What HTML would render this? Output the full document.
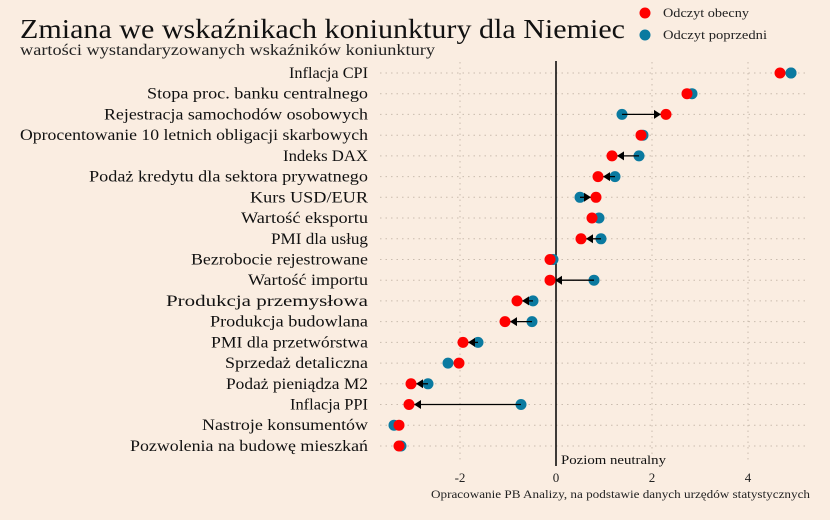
<!DOCTYPE html>
<html><head><meta charset="utf-8"><style>
body{margin:0;background:#faede1;}
svg{display:block;font-family:"Liberation Serif",serif;}
</style></head><body>
<svg width="830" height="520" xmlns="http://www.w3.org/2000/svg">
<rect width="830" height="520" fill="#faede1"/>
<text x="20" y="38" font-size="27" fill="#111" textLength="605" lengthAdjust="spacingAndGlyphs">Zmiana we wskaźnikach koniunktury dla Niemiec</text>
<text x="20" y="55" font-size="15.5" fill="#222" textLength="415" lengthAdjust="spacingAndGlyphs">wartości wystandaryzowanych wskaźników koniunktury</text>
<circle cx="645" cy="13" r="5.5" fill="#ff0000"/><text x="663" y="17" font-size="13" fill="#222" textLength="86" lengthAdjust="spacingAndGlyphs">Odczyt obecny</text>
<circle cx="645" cy="35" r="5.5" fill="#0b7aa0"/><text x="663" y="39" font-size="13" fill="#222" textLength="104" lengthAdjust="spacingAndGlyphs">Odczyt poprzedni</text>
<g stroke="#c9bcae" stroke-width="1" stroke-dasharray="1.5,4">
<line x1="460" y1="62" x2="460" y2="462"/><line x1="652" y1="62" x2="652" y2="462"/><line x1="748" y1="62" x2="748" y2="462"/>
<line x1="380" y1="73" x2="808" y2="73"/><line x1="380" y1="93.7" x2="808" y2="93.7"/><line x1="380" y1="114.4" x2="808" y2="114.4"/><line x1="380" y1="135.2" x2="808" y2="135.2"/><line x1="380" y1="155.9" x2="808" y2="155.9"/><line x1="380" y1="176.6" x2="808" y2="176.6"/><line x1="380" y1="197.3" x2="808" y2="197.3"/><line x1="380" y1="218" x2="808" y2="218"/><line x1="380" y1="238.8" x2="808" y2="238.8"/><line x1="380" y1="259.5" x2="808" y2="259.5"/><line x1="380" y1="280.2" x2="808" y2="280.2"/><line x1="380" y1="300.9" x2="808" y2="300.9"/><line x1="380" y1="321.6" x2="808" y2="321.6"/><line x1="380" y1="342.4" x2="808" y2="342.4"/><line x1="380" y1="363.1" x2="808" y2="363.1"/><line x1="380" y1="383.8" x2="808" y2="383.8"/><line x1="380" y1="404.5" x2="808" y2="404.5"/><line x1="380" y1="425.2" x2="808" y2="425.2"/><line x1="380" y1="446" x2="808" y2="446"/>
</g>
<line x1="556" y1="61" x2="556" y2="466" stroke="#000" stroke-width="1.5"/>
<text x="561" y="464" font-size="13" fill="#111" textLength="105" lengthAdjust="spacingAndGlyphs">Poziom neutralny</text>
<g font-size="13" fill="#222" text-anchor="middle">
<text x="460" y="482">-2</text><text x="556" y="482">0</text><text x="652" y="482">2</text><text x="748" y="482">4</text>
</g>
<text x="431" y="498" font-size="12" fill="#222" textLength="379" lengthAdjust="spacingAndGlyphs">Opracowanie PB Analizy, na podstawie danych urzędów statystycznych</text>
<g font-size="15.5" fill="#111" lengthAdjust="spacingAndGlyphs">
<text x="289" y="78" textLength="79" lengthAdjust="spacingAndGlyphs">Inflacja CPI</text>
<text x="147" y="98.7" textLength="221" lengthAdjust="spacingAndGlyphs">Stopa proc. banku centralnego</text>
<text x="104" y="119.4" textLength="264" lengthAdjust="spacingAndGlyphs">Rejestracja samochodów osobowych</text>
<text x="20" y="140.2" textLength="348" lengthAdjust="spacingAndGlyphs">Oprocentowanie 10 letnich obligacji skarbowych</text>
<text x="283" y="160.9" textLength="85" lengthAdjust="spacingAndGlyphs">Indeks DAX</text>
<text x="89" y="181.6" textLength="279" lengthAdjust="spacingAndGlyphs">Podaż kredytu dla sektora prywatnego</text>
<text x="250" y="202.3" textLength="118" lengthAdjust="spacingAndGlyphs">Kurs USD/EUR</text>
<text x="241" y="223" textLength="127" lengthAdjust="spacingAndGlyphs">Wartość eksportu</text>
<text x="271" y="243.8" textLength="97" lengthAdjust="spacingAndGlyphs">PMI dla usług</text>
<text x="191" y="264.5" textLength="177" lengthAdjust="spacingAndGlyphs">Bezrobocie rejestrowane</text>
<text x="248" y="285.2" textLength="120" lengthAdjust="spacingAndGlyphs">Wartość importu</text>
<text x="166" y="305.9" textLength="202" lengthAdjust="spacingAndGlyphs">Produkcja przemysłowa</text>
<text x="210" y="326.6" textLength="158" lengthAdjust="spacingAndGlyphs">Produkcja budowlana</text>
<text x="211" y="347.4" textLength="157" lengthAdjust="spacingAndGlyphs">PMI dla przetwórstwa</text>
<text x="225" y="368.1" textLength="143" lengthAdjust="spacingAndGlyphs">Sprzedaż detaliczna</text>
<text x="226" y="388.8" textLength="142" lengthAdjust="spacingAndGlyphs">Podaż pieniądza M2</text>
<text x="290" y="409.5" textLength="78" lengthAdjust="spacingAndGlyphs">Inflacja PPI</text>
<text x="202" y="430.2" textLength="166" lengthAdjust="spacingAndGlyphs">Nastroje konsumentów</text>
<text x="130" y="451" textLength="238" lengthAdjust="spacingAndGlyphs">Pozwolenia na budowę mieszkań</text>
</g>
<g fill="#0b7aa0">
<circle cx="791" cy="73" r="5.5"/><circle cx="692" cy="93.7" r="5.5"/><circle cx="622" cy="114.4" r="5.5"/><circle cx="643" cy="135.2" r="5.5"/><circle cx="639" cy="155.9" r="5.5"/><circle cx="615" cy="176.6" r="5.5"/><circle cx="580" cy="197.3" r="5.5"/><circle cx="599" cy="218" r="5.5"/><circle cx="601" cy="238.8" r="5.5"/><circle cx="553" cy="259.5" r="5.5"/><circle cx="594" cy="280.2" r="5.5"/><circle cx="533" cy="300.9" r="5.5"/><circle cx="532" cy="321.6" r="5.5"/><circle cx="478" cy="342.4" r="5.5"/><circle cx="448" cy="363.1" r="5.5"/><circle cx="428" cy="383.8" r="5.5"/><circle cx="521" cy="404.5" r="5.5"/><circle cx="394" cy="425.2" r="5.5"/><circle cx="401" cy="446" r="5.5"/>
</g>
<g stroke="#000" stroke-width="1.3">
<line x1="622" y1="114.4" x2="661" y2="114.4"/><line x1="639" y1="155.9" x2="617" y2="155.9"/><line x1="615" y1="176.6" x2="603" y2="176.6"/><line x1="580" y1="197.3" x2="591" y2="197.3"/><line x1="601" y1="238.8" x2="586" y2="238.8"/><line x1="594" y1="280.2" x2="555" y2="280.2"/><line x1="533" y1="300.9" x2="522" y2="300.9"/><line x1="532" y1="321.6" x2="510" y2="321.6"/><line x1="478" y1="342.4" x2="468" y2="342.4"/><line x1="428" y1="383.8" x2="416" y2="383.8"/><line x1="521" y1="404.5" x2="414" y2="404.5"/>
</g>
<g fill="#000">
<polygon points="661,114.4 654,109.9 654,118.9"/>
<polygon points="617,155.9 624,151.4 624,160.4"/>
<polygon points="603,176.6 610,172.1 610,181.1"/>
<polygon points="591,197.3 584,192.8 584,201.8"/>
<polygon points="586,238.8 593,234.3 593,243.3"/>
<polygon points="555,280.2 562,275.7 562,284.7"/>
<polygon points="522,300.9 529,296.4 529,305.4"/>
<polygon points="510,321.6 517,317.1 517,326.1"/>
<polygon points="468,342.4 475,337.9 475,346.9"/>
<polygon points="416,383.8 423,379.3 423,388.3"/>
<polygon points="414,404.5 421,400 421,409"/>
</g>
<g fill="#ff0000">
<circle cx="780" cy="73" r="5.5"/><circle cx="687" cy="93.7" r="5.5"/><circle cx="666" cy="114.4" r="5.5"/><circle cx="641" cy="135.2" r="5.5"/><circle cx="612" cy="155.9" r="5.5"/><circle cx="598" cy="176.6" r="5.5"/><circle cx="596" cy="197.3" r="5.5"/><circle cx="592" cy="218" r="5.5"/><circle cx="581" cy="238.8" r="5.5"/><circle cx="550" cy="259.5" r="5.5"/><circle cx="550" cy="280.2" r="5.5"/><circle cx="517" cy="300.9" r="5.5"/><circle cx="505" cy="321.6" r="5.5"/><circle cx="463" cy="342.4" r="5.5"/><circle cx="459" cy="363.1" r="5.5"/><circle cx="411" cy="383.8" r="5.5"/><circle cx="409" cy="404.5" r="5.5"/><circle cx="399" cy="425.2" r="5.5"/><circle cx="399" cy="446" r="5.5"/>
</g>
<circle cx="791" cy="73" r="5.5" fill="#0b7aa0"/>
</svg>
</body></html>
